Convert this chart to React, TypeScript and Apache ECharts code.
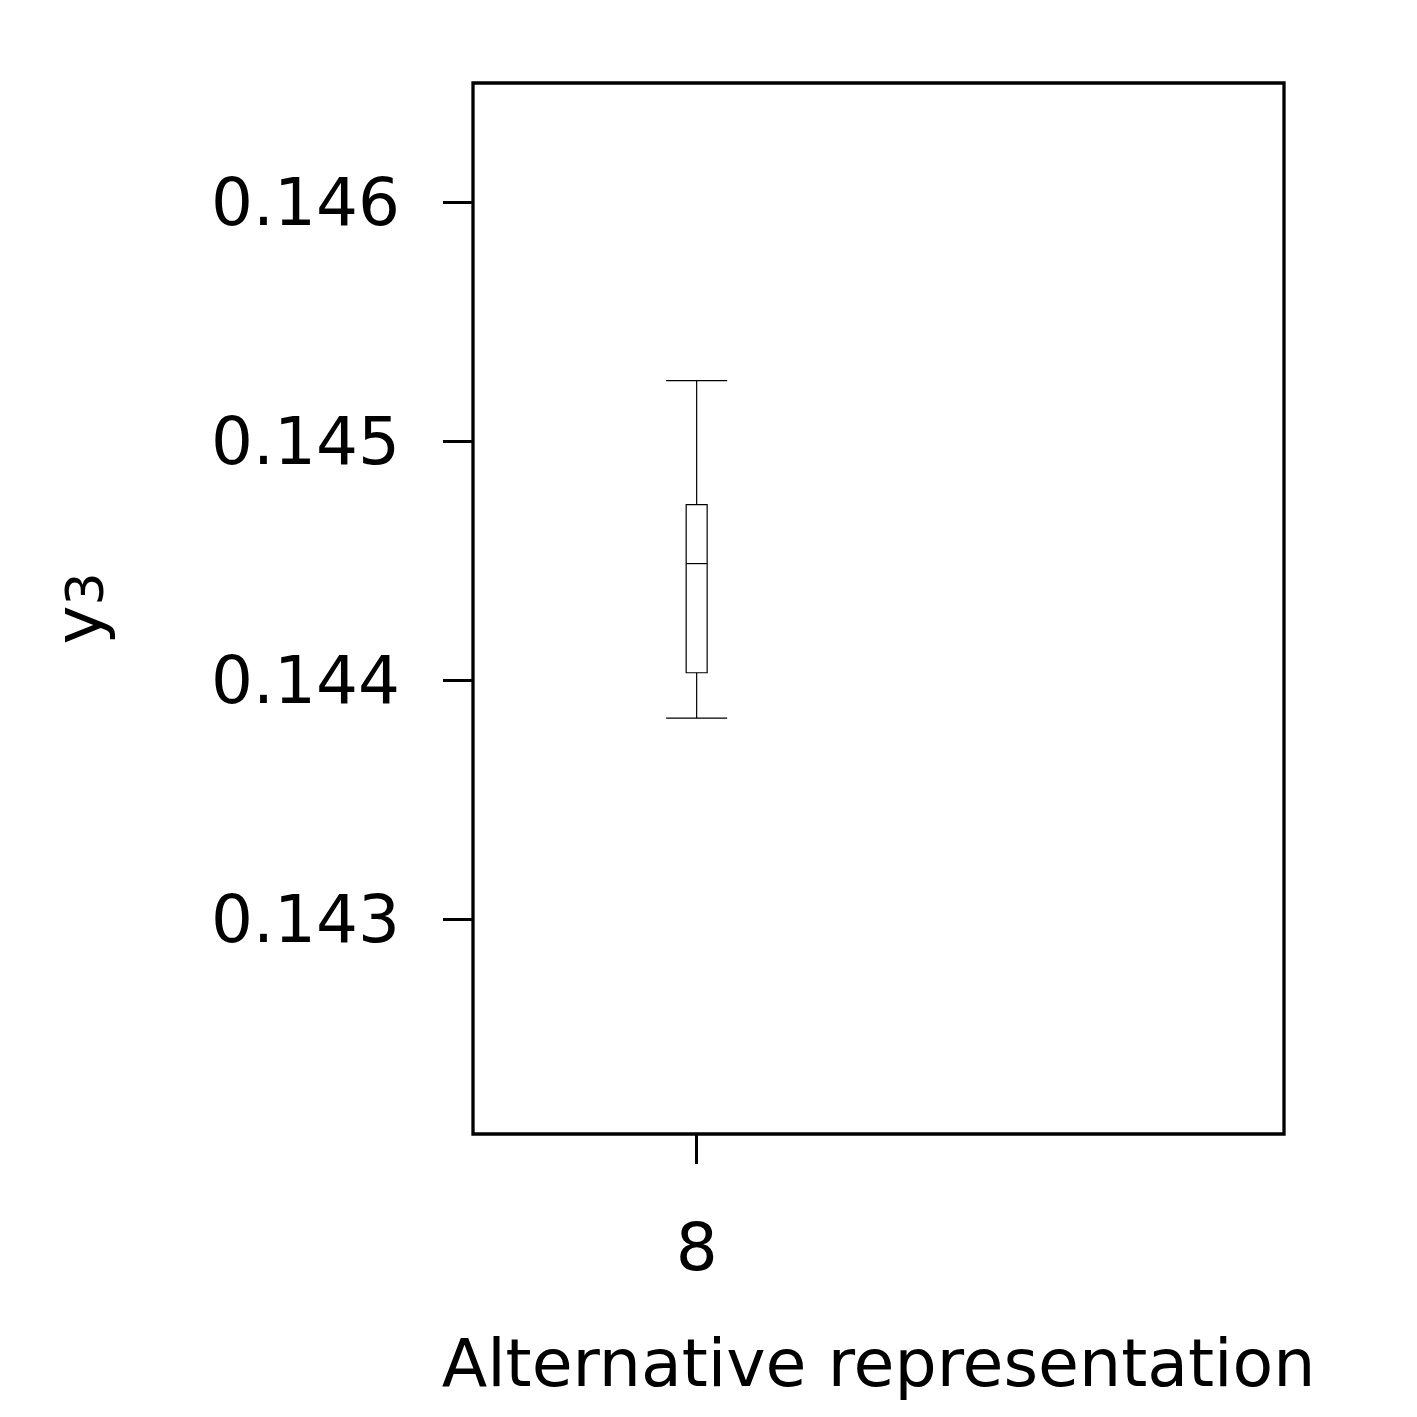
import React, { useEffect, useRef } from "react";
import * as echarts from "echarts";

const categories = [8];
const whiskerLow = [0.143841];
const q1 = [0.144031];
const median = [0.144488];
const q3 = [0.144735];
const whiskerHigh = [0.145254];
const yTicks = [0.143, 0.144, 0.145, 0.146];
const xTicks = [8];

export default function App() {
  const ref = useRef<HTMLDivElement>(null);
  useEffect(() => {
    const chart = echarts.init(ref.current!, null, { renderer: "svg" });
    const data = categories.map((c, i) => [c, whiskerLow[i], q1[i], median[i], q3[i], whiskerHigh[i]]);
    const font = "DejaVu Sans";
    const boxW = 0.0469;
    const capW = 0.1364;
    chart.setOption({
      animation: false,
      grid: {
        left: 473,
        top: 83,
        width: 811,
        height: 1051,
        show: true,
        borderColor: "#000",
        borderWidth: 3.3,
        backgroundColor: "transparent",
      },
      xAxis: {
        type: "value",
        min: 7.5,
        max: 9.313,
        name: "Alternative representation",
        nameLocation: "middle",
        nameGap: 195,
        nameTextStyle: { fontFamily: font, fontSize: 66.5, color: "#000" },
        axisLine: { show: false },
        splitLine: { show: false },
        axisTick: { show: true, customValues: xTicks, length: 30, lineStyle: { color: "#000", width: 3 } },
        axisLabel: {
          customValues: xTicks,
          margin: 80,
          fontFamily: font,
          fontSize: 66,
          color: "#000",
          formatter: (v: number) => String(v),
        },
      },
      yAxis: {
        type: "value",
        min: 0.1421,
        max: 0.1465,
        name: "{a|y}{b|3}",
        nameLocation: "middle",
        nameGap: 362,
        nameRotate: 90,
        nameTextStyle: {
          fontFamily: font,
          color: "#000",
          rich: {
            a: { fontFamily: font, fontSize: 66, lineHeight: 66, verticalAlign: "bottom", color: "#000" },
            b: { fontFamily: font, fontSize: 52, lineHeight: 18, verticalAlign: "bottom", color: "#000" },
          },
        },
        axisLine: { show: false },
        splitLine: { show: false },
        axisTick: { show: true, customValues: yTicks, length: 30, lineStyle: { color: "#000", width: 3 } },
        axisLabel: {
          customValues: yTicks,
          margin: 73,
          fontFamily: font,
          fontSize: 66,
          color: "#000",
          formatter: (v: number) => v.toFixed(3),
        },
      },
      series: [
        {
          type: "custom",
          data,
          encode: { x: 0, y: [1, 2, 3, 4, 5] },
          renderItem: (params: any, api: any) => {
            const x = api.value(0);
            const pLo = api.coord([x, api.value(1)]);
            const pQ1 = api.coord([x, api.value(2)]);
            const pMed = api.coord([x, api.value(3)]);
            const pQ3 = api.coord([x, api.value(4)]);
            const pHi = api.coord([x, api.value(5)]);
            const bh = api.size([boxW, 0])[0] / 2;
            const ch = api.size([capW, 0])[0] / 2;
            const cx = pMed[0];
            const st = { stroke: "#000", lineWidth: 1.2, fill: null };
            return {
              type: "group",
              children: [
                { type: "line", shape: { x1: cx, y1: pHi[1], x2: cx, y2: pQ3[1] }, style: st },
                { type: "line", shape: { x1: cx, y1: pQ1[1], x2: cx, y2: pLo[1] }, style: st },
                { type: "line", shape: { x1: cx - ch, y1: pHi[1], x2: cx + ch, y2: pHi[1] }, style: st },
                { type: "line", shape: { x1: cx - ch, y1: pLo[1], x2: cx + ch, y2: pLo[1] }, style: st },
                {
                  type: "rect",
                  shape: { x: cx - bh, y: pQ3[1], width: 2 * bh, height: pQ1[1] - pQ3[1] },
                  style: { stroke: "#000", lineWidth: 1.2, fill: "none" },
                },
                { type: "line", shape: { x1: cx - bh, y1: pMed[1], x2: cx + bh, y2: pMed[1] }, style: st },
              ],
            };
          },
        },
      ],
    });
    return () => chart.dispose();
  }, []);
  return (
    <div
      ref={ref}
      style={{ position: "absolute", left: 0, top: 0, width: 1417, height: 1417, background: "#fff" }}
    />
  );
}
